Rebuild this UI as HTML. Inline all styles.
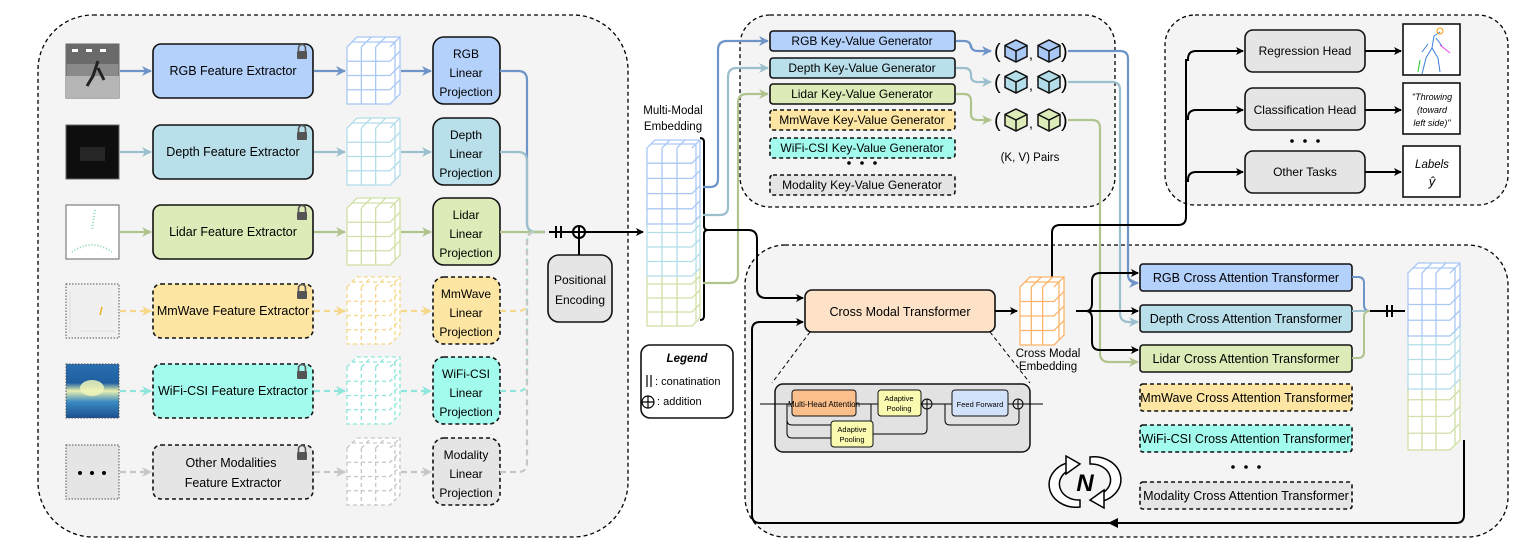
<!DOCTYPE html>
<html><head><meta charset="utf-8"><style>
html,body{margin:0;padding:0;background:#fff}
svg{display:block;font-family:"Liberation Sans",sans-serif}
</style></head><body>
<svg id="s" width="1522" height="555" viewBox="0 0 1522 555" xmlns="http://www.w3.org/2000/svg">
<defs>
<marker id="ak" markerWidth="8" markerHeight="8" refX="7" refY="4" orient="auto" markerUnits="userSpaceOnUse"><path d="M0,0 L8,4 L0,8 L2,4z" fill="#000"/></marker>
<marker id="ab" markerWidth="10" markerHeight="10" refX="9" refY="5" orient="auto" markerUnits="userSpaceOnUse"><path d="M0,0 L10,5 L0,10 L3,5z" fill="#6e94c8"/></marker>
<marker id="ad" markerWidth="10" markerHeight="10" refX="9" refY="5" orient="auto" markerUnits="userSpaceOnUse"><path d="M0,0 L10,5 L0,10 L3,5z" fill="#9bbfcc"/></marker>
<marker id="al" markerWidth="10" markerHeight="10" refX="9" refY="5" orient="auto" markerUnits="userSpaceOnUse"><path d="M0,0 L10,5 L0,10 L3,5z" fill="#b0c48e"/></marker>
<marker id="am" markerWidth="10" markerHeight="10" refX="9" refY="5" orient="auto" markerUnits="userSpaceOnUse"><path d="M0,0 L10,5 L0,10 L3,5z" fill="#f5d88a"/></marker>
<marker id="aw" markerWidth="10" markerHeight="10" refX="9" refY="5" orient="auto" markerUnits="userSpaceOnUse"><path d="M0,0 L10,5 L0,10 L3,5z" fill="#8fe6dc"/></marker>
<marker id="ag" markerWidth="10" markerHeight="10" refX="9" refY="5" orient="auto" markerUnits="userSpaceOnUse"><path d="M0,0 L10,5 L0,10 L3,5z" fill="#c6c6c6"/></marker>
<linearGradient id="wf" x1="0" y1="0" x2="0" y2="1"><stop offset="0" stop-color="#2a6fb0"/><stop offset=".35" stop-color="#1f5fa0"/><stop offset=".5" stop-color="#e8f0b0"/><stop offset=".7" stop-color="#3a8ac0"/><stop offset="1" stop-color="#1b4f90"/></linearGradient>
</defs>
<rect x="38" y="15" width="590" height="522" rx="55" fill="#f4f4f4" stroke="#000" stroke-width="1.3" stroke-dasharray="4,3"/>
<rect x="740" y="15" width="375" height="192" rx="30" fill="#f4f4f4" stroke="#000" stroke-width="1.3" stroke-dasharray="4,3"/>
<rect x="1165" y="15" width="343" height="190" rx="30" fill="#f4f4f4" stroke="#000" stroke-width="1.3" stroke-dasharray="4,3"/>
<rect x="745" y="245" width="763" height="292" rx="40" fill="#f4f4f4" stroke="#000" stroke-width="1.3" stroke-dasharray="4,3"/>
<g id="g"></g>
</svg>
<script>
const g=document.getElementById('g');let h='';
const rows=[
 {y:71,c:'#b3d1fb',l:'#6e94c8',m:'ab',d:false,n:'RGB Feature Extractor',p:['RGB','Linear','Projection'],cube:'#a9c8f5'},
 {y:152,c:'#b8dfea',l:'#9bbfcc',m:'ad',d:false,n:'Depth Feature Extractor',p:['Depth','Linear','Projection'],cube:'#b3dde9'},
 {y:232,c:'#dcebb7',l:'#b0c48e',m:'al',d:false,n:'Lidar Feature Extractor',p:['Lidar','Linear','Projection'],cube:'#cfe0a8'},
 {y:311,c:'#fde5a3',l:'#f5d88a',m:'am',d:true,n:'MmWave Feature Extractor',p:['MmWave','Linear','Projection'],cube:'#f5d88a'},
 {y:391,c:'#a3fbed',l:'#8fe6dc',m:'aw',d:true,n:'WiFi-CSI Feature Extractor',p:['WiFi-CSI','Linear','Projection'],cube:'#8fe6dc'},
 {y:472,c:'#e5e5e5',l:'#c6c6c6',m:'ag',d:true,n:'Other Modalities|Feature Extractor',p:['Modality','Linear','Projection'],cube:'#c6c6c6'}];
function cube(x,y,w,hh,cols,rs,dp,col,dash,sw){let s='';const da=dash?' stroke-dasharray="4,3"':'';const st=`stroke="${col}" stroke-width="${sw||1.3}" fill="none"${da}`;
 const fy=y+dp;
 s+=`<rect x="${x}" y="${fy}" width="${w}" height="${hh}" fill="#fff" ${st}/>`;
 s+=`<path d="M${x},${fy}L${x+dp},${y}L${x+w+dp},${y}L${x+w+dp},${y+hh}L${x+w},${fy+hh}M${x+w},${fy}L${x+w+dp},${y}" fill="#fff" ${st}/>`;
 for(let i=1;i<cols;i++){const xx=x+w*i/cols;s+=`<path d="M${xx},${fy}V${fy+hh}M${xx},${fy}L${xx+dp},${y}" ${st}/>`;}
 for(let j=1;j<rs;j++){const yy=fy+hh*j/rs;s+=`<path d="M${x},${yy}H${x+w}L${x+w+dp},${yy-dp}" ${st}/>`;}
 for(let i=1;i<2;i++){s+=`<path d="M${x+w+dp*i/2},${fy-dp*i/2}V${fy+hh-dp*i/2}M${x+dp*i/2},${fy-dp*i/2}H${x+w+dp*i/2}" ${st}/>`;}
 return s;}
function lock(x,y){return `<path d="M${x-3.5},${y}v-3a3.5,3.5 0 0 1 7,0v3" fill="none" stroke="#555" stroke-width="1.6"/><rect x="${x-5}" y="${y}" width="10" height="8" rx="1" fill="#555"/>`;}
function txt(x,y,t,fs,extra){return `<text x="${x}" y="${y}" font-size="${fs||11}" text-anchor="middle" ${extra||''}>${t}</text>`;}
rows.forEach((r,i)=>{const y=r.y,da=r.d?' stroke-dasharray="4,3"':'';
 const im=[`<rect x="66" y="${y-27}" width="53" height="54" fill="#8a8a8a" stroke="#666"/><rect x="66" y="${y-27}" width="53" height="20" fill="#6a6a6a"/><rect x="72" y="${y-22}" width="6" height="3" fill="#fff"/><rect x="86" y="${y-22}" width="6" height="3" fill="#fff"/><rect x="100" y="${y-22}" width="6" height="3" fill="#fff"/><rect x="66" y="${y+5}" width="53" height="22" fill="#b5b5b5"/><path d="M98,${y-10}l-5,15l-6,10M98,${y-3}l6,12" stroke="#222" stroke-width="3"/>`,
 `<rect x="66" y="${y-27}" width="53" height="54" fill="#0e0e0e" stroke="#666"/><rect x="80" y="${y-5}" width="25" height="14" fill="#262626"/>`,
 `<rect x="66" y="${y-27}" width="53" height="54" fill="#fff" stroke="#666"/><path d="M95,${y-22}l-3,20M72,${y+20}q20,-14 40,0" stroke="#8ddbb0" stroke-width="2" stroke-dasharray="1,2" fill="none"/>`,
 `<rect x="66" y="${y-27}" width="53" height="54" fill="#f0f0f0" stroke="#555" stroke-dasharray="1.5,1.5"/><path d="M70,${y-20}v42M80,${y+20}h35" stroke="#ddd"/><path d="M102,${y-4}l-2,8" stroke="#f0b020" stroke-width="1.5"/>`,
 `<rect x="66" y="${y-27}" width="53" height="54" fill="url(#wf)" stroke="#555" stroke-dasharray="1.5,1.5"/><ellipse cx="92" cy="${y-3}" rx="12" ry="8" fill="#eef5b8" opacity=".85"/>`,
 `<rect x="66" y="${y-27}" width="53" height="54" fill="#e5e5e5" stroke="#555" stroke-dasharray="1.5,1.5"/><circle cx="80" cy="${y+1}" r="2"/><circle cx="92" cy="${y+1}" r="2"/><circle cx="104" cy="${y+1}" r="2"/>`][i];
 h+=im;
 const ls=`stroke="${r.l}" stroke-width="2.2" fill="none"${r.d?' stroke-dasharray="6,4"':''}`;
 h+=`<path d="M120,${y}H151" ${ls} marker-end="url(#${r.m})"/>`;
 h+=`<rect x="153" y="${y-27}" width="160" height="54" rx="8" fill="${r.c}" stroke="#111" stroke-width="1.6"${da}/>`;
 const nm=r.n.split('|');
 if(nm.length==1)h+=txt(233,y+4,nm[0],12.5);else{h+=txt(231,y-5,nm[0],12.5);h+=txt(233,y+15,nm[1],12.5);}
 h+=lock(302,y-20);
 h+=`<path d="M314,${y}H345" ${ls} marker-end="url(#${r.m})"/>`;
 h+=cube(347,y-34,43,57,3,4,10,r.cube,r.d);
 h+=`<path d="M401,${y}H431" ${ls} marker-end="url(#${r.m})"/>`;
 h+=`<rect x="433" y="${y-34}" width="67" height="67" rx="11" fill="${r.c}" stroke="#111" stroke-width="1.6"${da}/>`;
 h+=txt(466,y-13,r.p[0],12)+txt(466,y+6,r.p[1],12)+txt(466,y+25,r.p[2],12);
 if(y<232)h+=`<path d="M500,${y}H518q9,0 9,9V223q0,9 9,9H545" ${ls}/>`;
 else if(y==232)h+=`<path d="M500,232H545" ${ls}/>`;
 else h+=`<path d="M500,${y}H518q9,0 9,-9V241q0,-9 9,-9" ${ls}/>`;
});
h+=`<path d="M549,232H643" stroke="#000" stroke-width="2" marker-end="url(#ak)"/>`;
h+=`<path d="M556,226v12M561,226v12" stroke="#000" stroke-width="2"/>`;
h+=`<circle cx="579" cy="232" r="6" fill="#fff" stroke="#000" stroke-width="2"/><path d="M573,232h12M579,226v12" stroke="#000" stroke-width="2"/>`;
h+=`<path d="M579,238V255" stroke="#000" stroke-width="2"/>`;
h+=`<rect x="548" y="255" width="64" height="67" rx="11" fill="#e5e5e5" stroke="#111" stroke-width="1.6"/>`+txt(580,284,'Positional',12)+txt(580,304,'Encoding',12);
h+=txt(673,114,'Multi-Modal',11.5)+txt(673,130,'Embedding',11.5);
h+=cube(647,262,45,56,3,4,8,'#cfe0a8',false);
h+=cube(647,210,45,58,3,4,8,'#b3dde9',false);
h+=cube(647,140,45,76,3,5,8,'#a9c8f5',false);
h+=`<path d="M700,138q4,0 4,4V226q0,4 4,4q-4,0 -4,4V316q0,4 -4,4" stroke="#000" stroke-width="2" fill="none"/>`;
h+=`<path d="M703,187H710q8,0 8,-8V50q0,-9 9,-9H768" stroke="#6e94c8" stroke-width="2.2" fill="none" marker-end="url(#ab)"/>`;
h+=`<path d="M703,215H720q8,0 8,-8V77q0,-9 9,-9H768" stroke="#9bbfcc" stroke-width="2.2" fill="none" marker-end="url(#ad)"/>`;
h+=`<path d="M703,283H729q9,0 9,-9V103q0,-9 9,-9H768" stroke="#b0c48e" stroke-width="2.2" fill="none" marker-end="url(#al)"/>`;
h+=`<path d="M708,230H748q9,0 9,9V289q0,9 9,9H803" stroke="#000" stroke-width="2" fill="none" marker-end="url(#ak)"/>`;
h+=`<rect x="641" y="345" width="92" height="73" rx="9" fill="#fff" stroke="#111" stroke-width="1.6"/>`;
h+=txt(687,362,'Legend',11.5,'font-weight="bold" font-style="italic"');
h+=`<path d="M647,375v12M651,375v12" stroke="#000" stroke-width="1.2"/>`+`<text x="655" y="385" font-size="11">: conatination</text>`;
h+=`<circle cx="648" cy="402" r="6" fill="none" stroke="#000" stroke-width="1.2"/><path d="M642,402h12M648,396v12" stroke="#000" stroke-width="1.2"/><text x="657" y="405" font-size="11">: addition</text>`;
const kv=[['RGB Key-Value Generator',31,'#b3d1fb',0],['Depth Key-Value Generator',58,'#b8dfea',0],['Lidar Key-Value Generator',84,'#dcebb7',0],['MmWave Key-Value Generator',110,'#fde5a3',1],['WiFi-CSI Key-Value Generator',138,'#a3fbed',1],['Modality Key-Value Generator',175,'#e5e5e5',1]];
kv.forEach(k=>{h+=`<rect x="770" y="${k[1]}" width="185" height="20" rx="3" fill="${k[2]}" stroke="#111" stroke-width="1.6"${k[3]?' stroke-dasharray="4,3"':''}/>`+txt(862,k[1]+14,k[0],12);});
h+=`<circle cx="849" cy="163" r="1.8"/><circle cx="862" cy="163" r="1.8"/><circle cx="875" cy="163" r="1.8"/>`;
function icube(cx,cy,col){const a=11;return `<path d="M${cx},${cy-a}L${cx+a},${cy-a/2}L${cx+a},${cy+a/2}L${cx},${cy+a}L${cx-a},${cy+a/2}L${cx-a},${cy-a/2}Z" fill="${col}" stroke="#111" stroke-width="1.5"/><path d="M${cx-a},${cy-a/2}L${cx},${cy}L${cx+a},${cy-a/2}M${cx},${cy}V${cy+a}" fill="none" stroke="#111" stroke-width="1.5"/>`;}
const pairs=[[51,'#a9c8f5','#6e94c8','ab',41,1128,283],[82,'#b3dde9','#9bbfcc','ad',68,1120,322],[120,'#dcebb7','#b0c48e','al',94,1100,362]];
pairs.forEach(p=>{const y=p[0];
 h+=`<path d="M956,${p[4]}H964q7,0 7,7V${y-6}q0,6 7,6H991" stroke="${p[2]}" stroke-width="2.2" fill="none" marker-end="url(#${p[3]})"/>`;
 h+=`<text x="994" y="${y+7}" font-size="20">(</text>`+icube(1016,y,p[1])+`<text x="1029" y="${y+8}" font-size="14">,</text>`+icube(1049,y,p[1])+`<text x="1061" y="${y+7}" font-size="20">)</text>`;
 h+=`<path d="M1068,${y}H${p[5]-8}q8,0 8,8V${p[6]-9}q0,9 9,9H1138" stroke="${p[2]}" stroke-width="2.2" fill="none" marker-end="url(#${p[3]})"/>`;
});
h+=txt(1030,161,'(K, V) Pairs',11.5);
const hd=[['Regression Head',30,51,24,'s'],['Classification Head',88,110,83,'c'],['Other Tasks',151,172,146,'o']];
hd.forEach(d=>{h+=`<rect x="1245" y="${d[1]}" width="120" height="42" rx="8" fill="#e5e5e5" stroke="#111" stroke-width="1.6"/>`+txt(1305,d[2]+4,d[0],12);
 h+=`<path d="M1365,${d[2]}H1401" stroke="#000" stroke-width="2" marker-end="url(#ak)"/>`;
 h+=`<rect x="1403" y="${d[3]}" width="57" height="51" fill="#fff" stroke="#111" stroke-width="1.6"/>`;
 h+=`<path d="M1188,${d[2]+10}V${d[2]+8}q0,-8 8,-8H1243" stroke="#000" stroke-width="2" fill="none" marker-end="url(#ak)"/>`;});
h+=`<path d="M1052,278V233q0,-8 8,-8H1178q8,0 8,-8V59" stroke="#000" stroke-width="2" fill="none"/>`;
h+=`<circle cx="1292" cy="141" r="1.8"/><circle cx="1305" cy="141" r="1.8"/><circle cx="1318" cy="141" r="1.8"/>`;
h+=`<path d="M1440,32l-6,4l-2,12l-6,10l-4,16M1432,48l6,10l2,14M1436,38l6,8M1428,44l-6,8" stroke="#3b7fd9" stroke-width="1" fill="none"/><path d="M1420,60l-2,12" stroke="#2c2" stroke-width="1"/><path d="M1440,45l10,8" stroke="#e4e" stroke-width="1"/><circle cx="1440" cy="31" r="3" fill="none" stroke="#f90"/>`;
h+=txt(1432,100,'"Throwing',9,'font-style="italic"')+txt(1432,113,'(toward',9,'font-style="italic"')+txt(1432,126,'left side)"',9,'font-style="italic"');
h+=txt(1432,168,'Labels',11.5,'font-style="italic"')+txt(1432,186,'ŷ',13,'font-style="italic"');
h+=`<rect x="805" y="290" width="190" height="42" rx="7" fill="#fde2c8" stroke="#111" stroke-width="1.6"/>`+txt(900,316,'Cross Modal Transformer',12.5);
h+=`<path d="M995,311H1017" stroke="#000" stroke-width="2" marker-end="url(#ak)"/>`;
h+=cube(1020,277,34,58,3,4,10,'#fcb46a',false);
h+=txt(1048,357,'Cross Modal',11.5)+txt(1048,370,'Embedding',11.5);
h+=`<path d="M1464,440V515q0,8 -8,8H760q-8,0 -8,-8V330q0,-8 8,-8H803" stroke="#000" stroke-width="2" fill="none" marker-end="url(#ak)"/>`;
h+=`<path d="M1108,523l10,-5v10z" fill="#000"/>`;
const ca=[['RGB Cross Attention Transformer',264,'#b3d1fb',0],['Depth Cross Attention Transformer',305,'#b8dfea',0],['Lidar Cross Attention Transformer',345,'#dcebb7',0],['MmWave Cross Attention Transformer',384,'#fde5a3',1],['WiFi-CSI Cross Attention Transformer',425,'#a3fbed',1],['Modality Cross Attention Transformer',482,'#e5e5e5',1]];
ca.forEach(c=>{h+=`<rect x="1140" y="${c[1]}" width="212" height="27" rx="3" fill="${c[2]}" stroke="#111" stroke-width="1.6"${c[3]?' stroke-dasharray="4,3"':''}/>`+txt(1246,c[1]+18,c[0],12.5);});
h+=`<circle cx="1233" cy="467" r="1.8"/><circle cx="1246" cy="467" r="1.8"/><circle cx="1259" cy="467" r="1.8"/>`;
h+=`<path d="M1076,311H1138" stroke="#000" stroke-width="2" marker-end="url(#ak)"/>`;
h+=`<path d="M1086,311q6,0 6,-8V281q0,-8 8,-8H1138" stroke="#000" stroke-width="2" fill="none" marker-end="url(#ak)"/>`;
h+=`<path d="M1086,311q6,0 6,8V342q0,8 8,8H1138" stroke="#000" stroke-width="2" fill="none" marker-end="url(#ak)"/>`;
h+=`<path d="M1352,277h6q6,0 6,6V305q0,6 6,6" stroke="#6e94c8" stroke-width="2" fill="none"/>`;
h+=`<path d="M1352,311h18" stroke="#9bbfcc" stroke-width="2" fill="none"/>`;
h+=`<path d="M1352,358h6q6,0 6,-6V317q0,-6 6,-6" stroke="#b0c48e" stroke-width="2" fill="none"/>`;
h+=`<path d="M1370,311H1405" stroke="#000" stroke-width="2"/><path d="M1387,305v12M1392,305v12" stroke="#000" stroke-width="2"/>`;
h+=cube(1408,373,42,67,3,4,10,'#cfe0a8',false);
h+=cube(1408,320,42,59,3,4,10,'#b3dde9',false);
h+=cube(1408,263,42,63,3,4,10,'#a9c8f5',false);
h+=`<path d="M810,332L772,383M990,332L1030,383" stroke="#000" stroke-dasharray="4,3"/>`;
h+=`<rect x="775" y="384" width="255" height="68" rx="8" fill="#e2e2e2" stroke="#111" stroke-width="1.5"/>`;
h+=`<path d="M760,404H1043" stroke="#000" stroke-width="1"/>`;
h+=`<path d="M787,404v16q0,5 5,5H866q5,0 5,-5v-16M945,404v16q0,5 5,5H1014q5,0 5,-5v-16" stroke="#000" fill="none"/>`;
h+=`<rect x="792" y="390" width="64" height="26" rx="3" fill="#fbbf8c" stroke="#111"/>`+txt(824,407,'Multi-Head Attention',8);
h+=`<rect x="878" y="390" width="43" height="26" rx="3" fill="#fafab0" stroke="#111"/>`+txt(899,401,'Adaptive',7.5)+txt(899,411,'Pooling',7.5);
h+=`<rect x="952" y="390" width="56" height="26" rx="3" fill="#d3e2fb" stroke="#111"/>`+txt(980,407,'Feed Forward',7.5);
h+=`<rect x="831" y="421" width="42" height="26" rx="3" fill="#fafab0" stroke="#111"/>`+txt(852,432,'Adaptive',7.5)+txt(852,442,'Pooling',7.5);
[927,1018].forEach(x=>{h+=`<circle cx="${x}" cy="404" r="5" fill="#e2e2e2" stroke="#000"/><path d="M${x-5},404h10M${x},399v10" stroke="#000"/>`;});
h+=`<path d="M787,413v20q0,5 5,5H831M873,434H922q5,0 5,-5v-20" stroke="#000" fill="none"/>`;
// N loop: two curved arrows
h+=`<path d="M1072,462 A26,22 0 0 0 1080,507 L1080,500 A19,16 0 0 1 1072,469 Z" fill="#fff" stroke="#000" stroke-width="1.5"/>`;
h+=`<path d="M1066,456 L1080,464 L1066,474 Z" fill="#fff" stroke="#000" stroke-width="1.5"/>`;
h+=`<path d="M1098,502 A26,22 0 0 0 1090,457 L1090,464 A19,16 0 0 1 1098,495 Z" fill="#fff" stroke="#000" stroke-width="1.5"/>`;
h+=`<path d="M1104,508 L1090,500 L1104,490 Z" fill="#fff" stroke="#000" stroke-width="1.5"/>`;
h+=`<text x="1085" y="491" font-size="24" font-weight="bold" font-style="italic" text-anchor="middle">N</text>`;
g.innerHTML=h;
</script>
</body></html>
